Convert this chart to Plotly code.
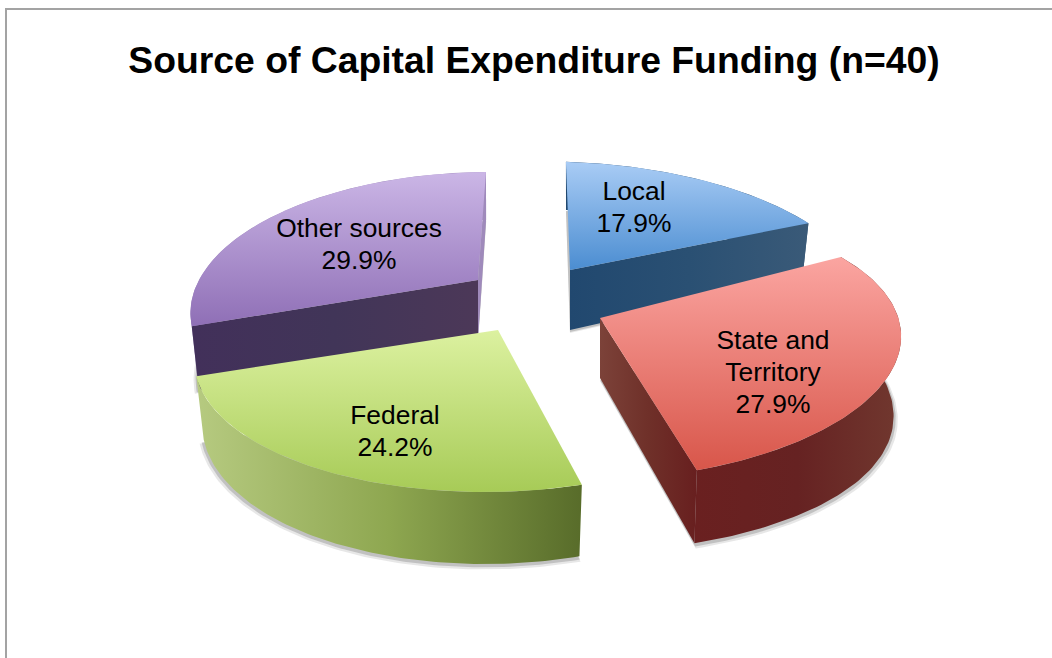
import numpy as np
import plotly.graph_objects as go

# ---- data ----
categories = ["Local", "State and Territory", "Federal", "Other sources"]
shares = [17.9, 27.9, 24.2, 29.9]
title_text = "Source of Capital Expenditure Funding (n=40)"
label_lines = [["Local"], ["State and", "Territory"], ["Federal"], ["Other sources"]]

# ---- geometry and style ----
W, H = 1052, 658
START = -1.0
RX, RY, PERSP, DEPTH, DEPTH_P, TAPER = 300, 135, 0.2, 60, 0.2, 0.025
LINE_GAP = 32
APEX = {"Local": (570, 270), "State and Territory": (600, 318),
        "Federal": (498, 330), "Other sources": (478, 280)}
# per-slice fine tuning of the projected shape: x scale, x-from-y shear, y-from-x shear, extra side depth
ADJUST = {"Local": (0.975, 0.0, 0.033, 0), "State and Territory": (0.985, 0.0, -0.025, 18),
          "Federal": (0.985, -0.084, 0.0, 0), "Other sources": (0.93, -0.11, 0.0, 0)}
LABEL_POS = {"Local": (634, 209.5), "State and Territory": (773, 374),
             "Federal": (395, 433), "Other sources": (359, 246)}
TOP = {"Local": ("#a9ccf5", "#4b8dd1"), "State and Territory": ("#fba5a1", "#d8564a"),
       "Federal": ("#dcf1a0", "#a7cb57"), "Other sources": ("#cbb6e6", "#8f6fb6")}
WALL = {"Local": ["#21486f", "#2a5073", "#3a5a78"],
        "State and Territory": ["#6a2020", "#662222", "#71382f"],
        "Federal": ["#b6ca80", "#8ea750", "#586c2a"],
        "Other sources": ["#9f8abb", "#9f8abb", "#9f8abb"]}
FACE = {"Local": ["#21486f", "#2a5073", "#3a5a78"],
        "State and Territory": ["#7c4239", "#6f3029", "#681f1f"],
        "Other sources": ["#42305a", "#413558", "#4c3858"]}
# which cut faces show: 0 = start edge, -1 = end edge
VISIBLE_FACES = {"Local": [(-1, FACE["Local"])],
                 "State and Territory": [(-1, FACE["State and Territory"])],
                 "Federal": [],
                 "Other sources": [(0, FACE["Other sources"]), (-1, WALL["Other sources"])]}
DRAW_ORDER = ["Local", "Other sources", "State and Territory", "Federal"]


def project(name, t_deg, h):
    sx, kx, my, extra = ADJUST[name]
    t = np.radians(t_deg)
    s, c = np.sin(t), -np.cos(t)
    x = RX * s * (1 + PERSP * c) * (1 - TAPER * h)
    y = RY * c * (1 + PERSP * c)
    depth = DEPTH * (1 + DEPTH_P * c) + extra * s ** 2
    return sx * x + kx * y, y + my * x + h * depth


def poly(xs, ys, colors=None, vertical=False, solid=None):
    xs, ys = np.asarray(xs, float), np.asarray(ys, float)
    kw = dict(x=xs, y=ys, mode="lines", line=dict(width=0), fill="toself",
              hoverinfo="skip", showlegend=False)
    if solid:
        kw["fillcolor"] = solid
    else:
        n = len(colors) - 1
        scale = [[i / n, col] for i, col in enumerate(colors)]
        lo, hi = (ys.min(), ys.max()) if vertical else (xs.min(), xs.max())
        kw["fillgradient"] = dict(type="vertical" if vertical else "horizontal",
                                  colorscale=scale, start=lo, stop=hi)
    return go.Scatter(**kw)


fig = go.Figure()
total = sum(shares)
bounds = START + np.concatenate([[0], np.cumsum(shares)]) / total * 360
spans = {c: (bounds[i], bounds[i + 1]) for i, c in enumerate(categories)}

for name in DRAW_ORDER:
    t0, t1 = spans[name]
    ax, ay = APEX[name]
    ts = np.linspace(t0, t1, 90)
    tx, ty = project(name, ts, 0)
    bx, by = project(name, ts, 1)
    bay = DEPTH

    # soft shadow
    for grow, dy, alpha in [(1.014, 3, 0.12), (1.007, 2, 0.22)]:
        fig.add_trace(poly(ax + np.r_[0, bx * grow], ay + bay + np.r_[0, (by - DEPTH) * grow] + dy,
                           solid=f"rgba(60,60,60,{alpha})"))

    # outer wall
    fig.add_trace(poly(ax + np.r_[tx, bx[::-1]], ay + np.r_[ty, by[::-1]], colors=WALL[name]))
    # cut faces
    for k, cols in VISIBLE_FACES[name]:
        fig.add_trace(poly(ax + np.array([0, tx[k], bx[k], 0]),
                           ay + np.array([0, ty[k], by[k], bay]), colors=cols))
    # top surface
    fig.add_trace(poly(ax + np.r_[0, tx], ay + np.r_[0, ty], colors=TOP[name], vertical=True))

# data labels, one text point per line so the line gap can follow the reference
lx, ly, lt = [], [], []
for cat, lines, v in zip(categories, label_lines, shares):
    rows = lines + [f"{v:.1f}%"]
    cx, cy = LABEL_POS[cat]
    for i, row in enumerate(rows):
        lx.append(cx)
        ly.append(cy + (i - (len(rows) - 1) / 2) * LINE_GAP)
        lt.append(row)
fig.add_trace(go.Scatter(
    x=lx, y=ly, text=lt, mode="text", textposition="middle center",
    textfont=dict(family="Liberation Sans", size=26.4, color="#000000"),
    hoverinfo="skip", showlegend=False))

fig.update_layout(
    width=W, height=H, margin=dict(l=0, r=0, t=0, b=0),
    paper_bgcolor="#ffffff", plot_bgcolor="#ffffff",
    title=dict(text=f"<b>{title_text}</b>", x=534 / W, y=1 - 60 / H,
               xanchor="center", yanchor="middle", xref="paper", yref="paper",
               font=dict(family="Liberation Sans", size=37.3, color="#000000")),
    xaxis=dict(range=[0, W], visible=False, fixedrange=True),
    yaxis=dict(range=[H, 0], visible=False, fixedrange=True),
    shapes=[dict(type="rect", xref="x", yref="y", x0=6, y0=9, x1=W + 20, y1=H + 20,
                 line=dict(color="#a3a3a3", width=2), layer="below")],
)
fig.write_html("out.html", post_script="document.body.style.margin='0';",
               config=dict(displayModeBar=False))
